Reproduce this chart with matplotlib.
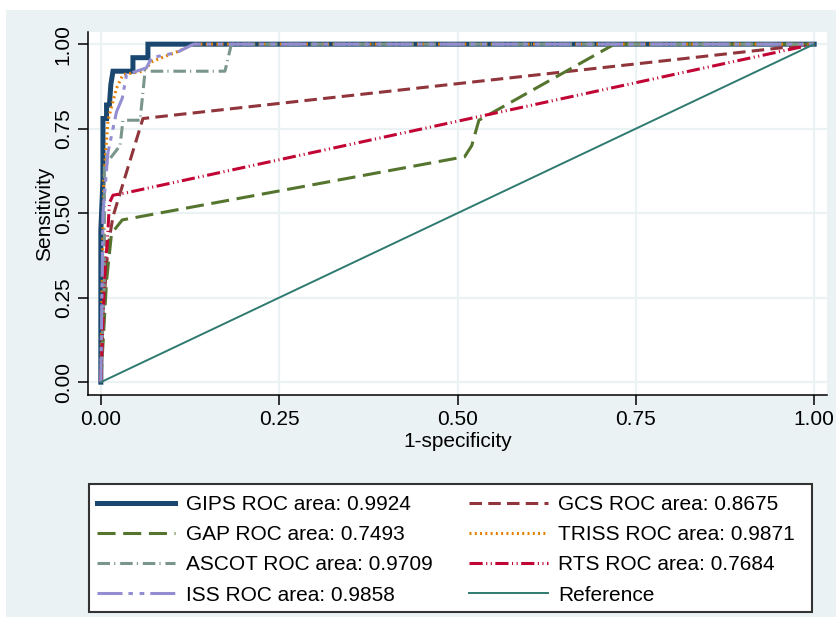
import matplotlib.pyplot as plt
from matplotlib.patches import Rectangle

plt.rcParams['font.family'] = ['Liberation Sans', 'DejaVu Sans']
plt.rcParams['lines.scale_dashes'] = False

# ROC curves (1-specificity, sensitivity)
gips_x = [0, 0, 0.003, 0.003, 0.008, 0.008, 0.012, 0.014, 0.017, 0.045, 0.045, 0.066, 0.066, 1]
gips_y = [0, 0.45, 0.6, 0.78, 0.78, 0.82, 0.82, 0.88, 0.92, 0.92, 0.96, 0.96, 1.0, 1.0]

gcs_x = [0, 0.003, 0.01, 0.017, 0.059, 1]
gcs_y = [0, 0.2, 0.4, 0.49, 0.78, 1.0]

gap_x = [0, 0.008, 0.015, 0.03, 0.51, 0.52, 0.53, 0.72, 1]
gap_y = [0, 0.3, 0.44, 0.48, 0.667, 0.70, 0.775, 1.0, 1.0]

triss_x = [0, 0.004, 0.01, 0.022, 0.031, 0.059, 0.073, 0.11, 0.13, 1]
triss_y = [0, 0.6, 0.775, 0.87, 0.91, 0.92, 0.95, 0.98, 1.0, 1.0]

ascot_x = [0, 0.005, 0.005, 0.027, 0.031, 0.055, 0.062, 0.174, 0.183, 1]
ascot_y = [0, 0.3, 0.64, 0.70, 0.775, 0.775, 0.92, 0.92, 1.0, 1.0]

rts_x = [0, 0.005, 0.01, 0.012, 0.017, 0.035, 1]
rts_y = [0, 0.3, 0.45, 0.53, 0.553, 0.56, 1.0]

iss_x = [0, 0.003, 0.01, 0.022, 0.03, 0.036, 0.064, 0.071, 0.106, 0.13, 1]
iss_y = [0, 0.5, 0.68, 0.80, 0.84, 0.91, 0.93, 0.96, 0.975, 1.0, 1.0]

ref_x = [0, 1]
ref_y = [0, 1]

labels = ['GIPS ROC area: 0.9924', 'GCS ROC area: 0.8675', 'GAP ROC area: 0.7493',
          'TRISS ROC area: 0.9871', 'ASCOT ROC area: 0.9709', 'RTS ROC area: 0.7684',
          'ISS ROC area: 0.9858', 'Reference']

ticks = [0, 0.25, 0.5, 0.75, 1.0]
tick_labels = ['0.00', '0.25', '0.50', '0.75', '1.00']

bg = '#eaf2f3'

fig = plt.figure(figsize=(8.37, 6.17), dpi=100)
fig.patch.set_facecolor('white')
fig.add_artist(Rectangle((6 / 837, 0), 1, 1 - 10 / 617, transform=fig.transFigure,
                         facecolor=bg, edgecolor='none', zorder=-10))

ax = fig.add_axes([88 / 837, 1 - 395 / 617, (827 - 88) / 837, (395 - 32) / 617])
ax.set_facecolor('white')

h = {}
h['gips'], = ax.plot(gips_x, gips_y, color='#1a476f', lw=3.6, solid_joinstyle='miter')
h['gcs'], = ax.plot(gcs_x, gcs_y, color='#90353b', lw=2.2, dashes=(9, 4.5))
h['gap'], = ax.plot(gap_x, gap_y, color='#55752f', lw=2.2, dashes=(13, 5.5))
h['triss'], = ax.plot(triss_x, triss_y, color='#e37e00', lw=2.2, dashes=(1.4, 2.4))
h['ascot'], = ax.plot(ascot_x, ascot_y, color='#7a968a', lw=2.2, dashes=(9, 3, 0.8, 3.5))
h['rts'], = ax.plot(rts_x, rts_y, color='#c10534', lw=2.2,
                    dashes=(9.5, 2.5, 0.8, 2.5, 0.8, 2.5))
h['iss'], = ax.plot(iss_x, iss_y, color='#938dd2', lw=2.2,
                    dashes=(18, 4.3, 3.2, 4.8, 3.4, 4.3))
h['ref'], = ax.plot(ref_x, ref_y, color='#2f7a70', lw=1.4)

ax.set_xlim(-0.018, 1.018)
ax.set_ylim(-0.038, 1.036)
ax.set_xticks(ticks)
ax.set_xticklabels(tick_labels)
ax.set_yticks(ticks)
ax.set_yticklabels(tick_labels, rotation=90, va='center')
ax.tick_params(labelsize=15, length=7, width=1.1, color='black', pad=4)
ax.grid(True, color=bg, lw=1.6)
ax.set_axisbelow(True)
for s in ['top', 'right']:
    ax.spines[s].set_visible(False)
for s in ['left', 'bottom']:
    ax.spines[s].set_linewidth(1.1)

ax.set_xlabel('1-specificity', fontsize=15, labelpad=2)
ax.set_ylabel('Sensitivity', fontsize=15, labelpad=0)

# legend frame
fig.add_artist(Rectangle((89 / 837, 1 - 612 / 617), (812 - 89) / 837, (612 - 484) / 617,
                         transform=fig.transFigure, facecolor='white',
                         edgecolor='#333333', lw=1.5, zorder=1))

order = ['gips', 'gap', 'ascot', 'iss', 'gcs', 'triss', 'rts', 'ref']
lab_order = [labels[0], labels[2], labels[4], labels[6],
             labels[1], labels[3], labels[5], labels[7]]
leg = fig.legend([h[k] for k in order], lab_order, ncol=2,
                 loc='upper left', bbox_to_anchor=(97 / 837, 1 - 495 / 617),
                 fontsize=15, handlelength=3.75, handletextpad=0.5,
                 labelspacing=0.54, borderpad=0, columnspacing=1.78,
                 frameon=False, borderaxespad=0)
leg.set_zorder(2)

fig.savefig('out.png', dpi=100, facecolor=fig.get_facecolor())
